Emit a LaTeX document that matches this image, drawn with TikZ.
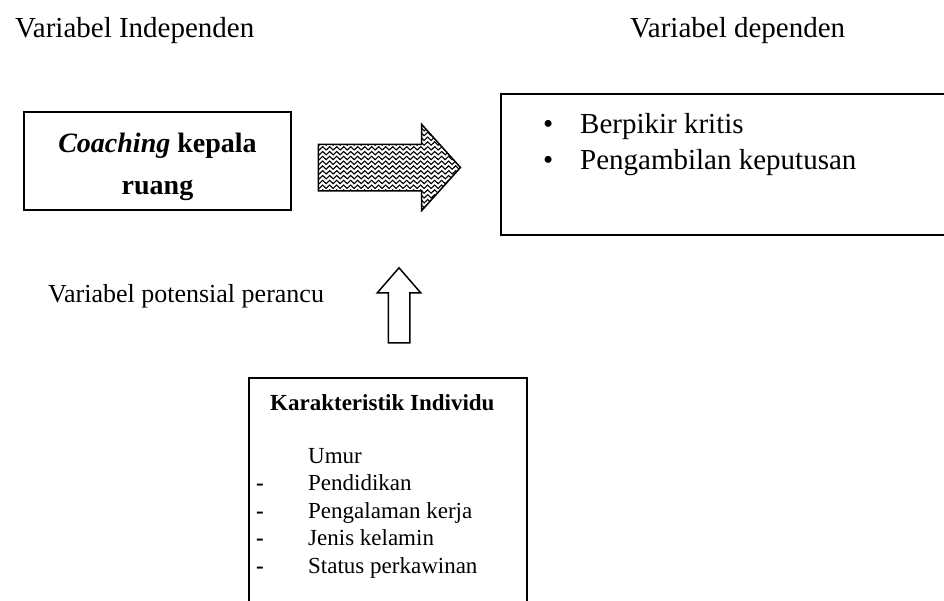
\documentclass[tikz,border=0pt]{standalone}
\usepackage{fontspec}
\setmainfont{Liberation Serif}
\usetikzlibrary{shapes.arrows,decorations.pathmorphing}

\begin{document}
\begin{tikzpicture}
    [x=1pt, y=-1pt,
     box/.style = {draw, line width=1.5pt, rectangle, inner sep=0pt},
     wavy/.style = {decorate, line width=1.1pt, decoration={snake, amplitude=1.7pt, segment length=7pt}},
     bigarrow/.style = {single arrow, draw, line width=1.5pt, inner xsep=0pt}]
    \useasboundingbox (0,0) rectangle (944,600);
    % judul kolom
    \node[anchor=base west, inner sep=0pt, font=\fontsize{29}{34}\selectfont] (indep) at (15,37) {Variabel Independen};
    \node[anchor=base west, inner sep=0pt, font=\fontsize{29}{34}\selectfont] (dep) at (630,37) {Variabel dependen};
    % variabel independen
    \node[box, minimum width=267, minimum height=98, align=center,
          font=\fontsize{28}{42}\selectfont\bfseries] (coach) at (157.5,161)
          {\rule{0pt}{32pt}\textit{Coaching} kepala\\ruang};
    % panah utama
    \node[bigarrow, minimum height=142, inner ysep=22.5pt, single arrow head extend=20pt,
          single arrow tip angle=96,
          path picture={
            \foreach \k in {0,...,18}
              \draw[wavy] ([xshift=-5pt, yshift=\k*4.8pt]path picture bounding box.south west)
                -- ([xshift=5pt, yshift=\k*4.8pt]path picture bounding box.south east);
          }] (flow) at (379,167.5) {};
    % variabel dependen
    \node[box, minimum width=470, minimum height=141, anchor=north west] (hasil) at (500,93) {};
    \node[anchor=base west, inner sep=0pt, align=left, font=\fontsize{29}{36}\selectfont] (hasiltext) at (543,169)
          {\makebox[37pt][l]{\textbullet}Berpikir kritis\\
           \makebox[37pt][l]{\textbullet}Pengambilan keputusan};
    % perancu
    \node[anchor=base west, inner sep=0pt, font=\fontsize{26}{30}\selectfont] (perancu) at (48,302) {Variabel potensial perancu};
    \node[bigarrow, rotate=90, minimum height=75, inner ysep=10pt, single arrow head extend=11pt,
          single arrow tip angle=82] (up) at (399,311.5) {};
    \node[box, minimum width=278, minimum height=240, anchor=north west] (indiv) at (248,377) {};
    \node[anchor=base west, inner sep=0pt, font=\fontsize{23}{27.5}\selectfont\bfseries] (kar) at (270,410) {Karakteristik Individu};
    \node[anchor=base west, inner sep=0pt, align=left, font=\fontsize{23}{27.5}\selectfont] (ciri) at (256,573)
          {\makebox[52pt][l]{}Umur\\
           \makebox[52pt][l]{\textbf{-}}Pendidikan\\
           \makebox[52pt][l]{\textbf{-}}Pengalaman kerja\\
           \makebox[52pt][l]{\textbf{-}}Jenis kelamin\\
           \makebox[52pt][l]{\textbf{-}}Status perkawinan};
  \end{tikzpicture}
\end{document}
